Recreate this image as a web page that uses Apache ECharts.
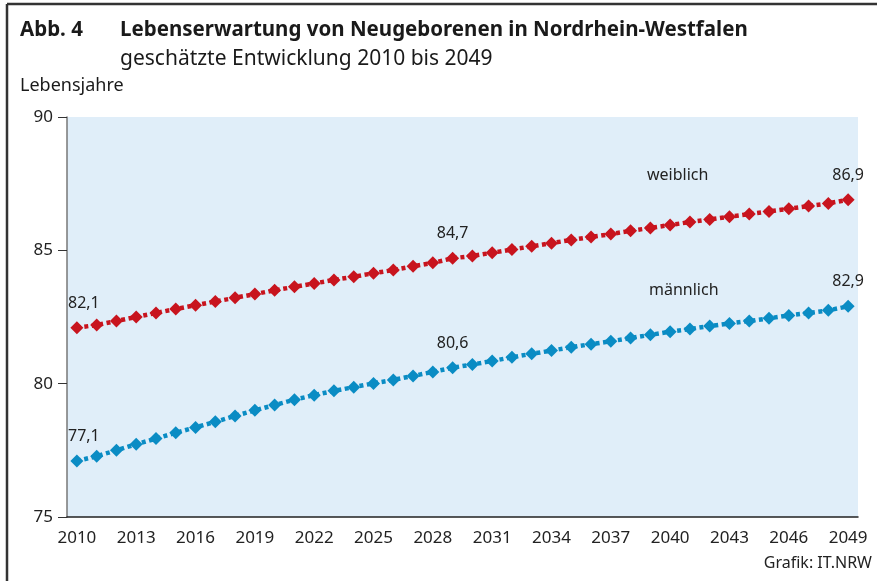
<!DOCTYPE html>
<html>
<head>
<meta charset="utf-8">
<script src="https://cdn.jsdelivr.net/npm/echarts@6/dist/echarts.min.js"></script>
<style>
html,body{margin:0;padding:0;background:#fff;}
#main{width:877px;height:581px;}
</style>
</head>
<body>
<div id="main"></div>
<script>
// Jahre 2010 bis 2049
var jahre = [];
for (var y = 2010; y <= 2049; y++) jahre.push(String(y));

// weiblich
var weiblich = [82.1, 82.2, 82.35, 82.5, 82.65, 82.8, 82.94, 83.08, 83.22, 83.36,
  83.5, 83.63, 83.76, 83.89, 84.01, 84.14, 84.26, 84.4, 84.53, 84.7,
  84.79, 84.91, 85.03, 85.15, 85.27, 85.39, 85.5, 85.61, 85.73, 85.84,
  85.95, 86.06, 86.16, 86.26, 86.36, 86.46, 86.56, 86.66, 86.76, 86.9];

// maennlich
var maennlich = [77.1, 77.28, 77.5, 77.73, 77.94, 78.16, 78.36, 78.57, 78.79, 79.0,
  79.2, 79.4, 79.57, 79.73, 79.87, 80.01, 80.14, 80.29, 80.44, 80.6,
  80.72, 80.85, 80.99, 81.12, 81.24, 81.37, 81.48, 81.59, 81.71, 81.83,
  81.95, 82.05, 82.16, 82.26, 82.35, 82.45, 82.56, 82.65, 82.75, 82.9];

// Beschriftete Werte (Index)
var beschriftet = [0, 19, 39];

function mitLabels(arr){
  return arr.map(function(v, i){
    if (beschriftet.indexOf(i) >= 0) {
      return {value: v, label: {show: true, formatter: String(v.toFixed(1)).replace('.', ','),
        offset: i === 0 ? [7, 0] : [0, 0]}};
    }
    return v;
  });
}

var font = '"Noto Sans", "Open Sans", sans-serif';
var myChart = echarts.init(document.getElementById('main'));
var option = {
  animation: false,
  textStyle: {fontFamily: font},
  grid: {left: 67, right: 19, top: 117, bottom: 64, show: true,
    backgroundColor: '#e0eef9', borderWidth: 0},
  xAxis: {
    type: 'category', boundaryGap: true, data: jahre,
    axisLine: {lineStyle: {color: '#222', width: 1.5}},
    axisTick: {show: false},
    axisLabel: {interval: 2, fontSize: 17, color: '#222', margin: 13, fontFamily: font}
  },
  yAxis: {
    type: 'value', min: 75, max: 90, interval: 5,
    axisLine: {show: true, lineStyle: {color: '#777', width: 1.5}},
    axisTick: {show: true, length: 9, lineStyle: {color: '#333', width: 1}},
    splitLine: {show: false},
    axisLabel: {fontSize: 17, color: '#222', margin: 14, padding: [0, 0, 8, 0], fontFamily: font}
  },
  series: [
    {
      name: 'weiblich', type: 'line', data: mitLabels(weiblich),
      symbol: 'diamond', symbolSize: 13,
      itemStyle: {color: '#c8141e'},
      lineStyle: {color: '#c8141e', width: 4.5, type: [4, 3.5]},
      label: {show: false, position: 'top', distance: 10, fontSize: 16, color: '#222', fontFamily: font}
    },
    {
      name: 'männlich', type: 'line', data: mitLabels(maennlich),
      symbol: 'diamond', symbolSize: 13,
      itemStyle: {color: '#0a8cc4'},
      lineStyle: {color: '#0a8cc4', width: 4.5, type: [4, 3.5]},
      label: {show: false, position: 'top', distance: 10, fontSize: 16, color: '#222', fontFamily: font}
    }
  ],
  graphic: [
    {type: 'line', shape: {x1: 7, y1: 4, x2: 877, y2: 4}, style: {stroke: '#333', lineWidth: 2.5}},
    {type: 'line', shape: {x1: 7, y1: 4, x2: 7, y2: 581}, style: {stroke: '#333', lineWidth: 2.5}},
    {type: 'text', left: 20, top: 20, style: {text: 'Abb. 4', font: 'bold 20.5px ' + font, fill: '#1a1a1a'}},
    {type: 'text', left: 120, top: 20, style: {text: 'Lebenserwartung von Neugeborenen in Nordrhein-Westfalen', font: 'bold 20.5px ' + font, fill: '#1a1a1a'}},
    {type: 'text', left: 120, top: 49, style: {text: 'geschätzte Entwicklung 2010 bis 2049', font: '21px ' + font, fill: '#1a1a1a'}},
    {type: 'text', left: 20, top: 77, style: {text: 'Lebensjahre', font: '18px ' + font, fill: '#1a1a1a'}},
    {type: 'text', left: 647, top: 167, style: {text: 'weiblich', font: '16px ' + font, fill: '#222'}},
    {type: 'text', left: 649, top: 282, style: {text: 'männlich', font: '16px ' + font, fill: '#222'}},
    {type: 'text', right: 5, top: 555, style: {text: 'Grafik: IT.NRW', font: '16px ' + font, fill: '#222'}}
  ]
};
myChart.setOption(option);
window.onresize = myChart.resize;
</script>
</body>
</html>
